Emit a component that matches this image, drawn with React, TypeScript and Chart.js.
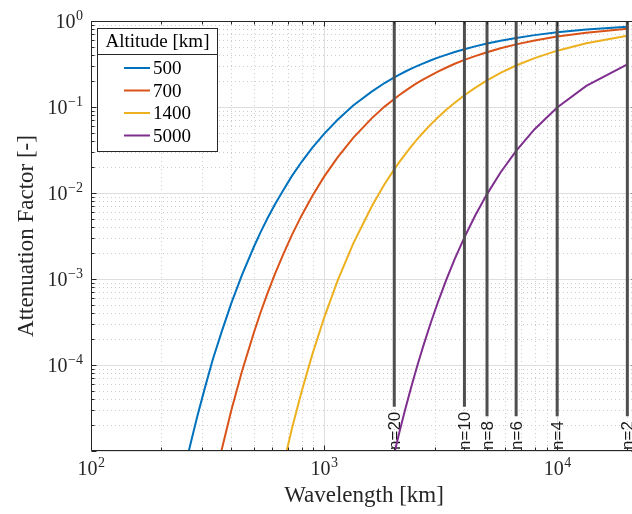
import React, { useEffect, useRef } from "react";
import { Chart, registerables } from "chart.js";

Chart.register(...registerables);

// Wavelength samples (km), one per spherical-harmonic degree n = 2..180
const wavelengthKm = [
  20000, 13333, 10000, 8000, 6667, 5714, 5000, 4444, 4000, 3636, 3333, 3077, 2857, 2667, 2500,
  2353, 2222, 2105, 2000, 1818, 1600, 1333, 1143, 1000, 889, 800, 727, 667, 615, 571, 533, 500,
  444, 400, 364, 333, 308, 286, 267, 250, 222,
];

const alt500 = [
  0.86, 0.797, 0.739, 0.685, 0.636, 0.589, 0.546, 0.507, 0.47, 0.436, 0.404, 0.375, 0.347, 0.322,
  0.299, 0.277, 0.257, 0.238, 0.221, 0.19, 0.151, 0.104, 0.071, 0.0487, 0.0334, 0.0229, 0.0157,
  0.0107, 0.00736, 0.00505, 0.00346, 0.00237, 0.00111, 5.23e-4, 2.46e-4, 1.16e-4, 5.42e-5,
  2.55e-5, 1.2e-5, 5.6e-6, 1.24e-6,
];
const alt700 = [
  0.812, 0.731, 0.659, 0.594, 0.535, 0.482, 0.434, 0.391, 0.353, 0.318, 0.286, 0.258, 0.232,
  0.209, 0.189, 0.17, 0.153, 0.138, 0.124, 0.101, 0.0738, 0.0438, 0.026, 0.0155, 0.00918,
  0.00545, 0.00324, 0.00192, 0.00114, 6.77e-4, 4.02e-4, 2.39e-4, 8.42e-5, 2.97e-5, 1.05e-5,
  3.69e-6, 1.3e-6, 4.6e-7, 1.62e-7, 5.7e-8, 7.1e-9,
];
const alt1400 = [
  0.672, 0.551, 0.452, 0.37, 0.304, 0.249, 0.204, 0.167, 0.137, 0.112, 0.0922, 0.0756, 0.062,
  0.0508, 0.0417, 0.0342, 0.028, 0.023, 0.0188, 0.0127, 0.00697, 0.00258, 9.56e-4, 3.54e-4,
  1.31e-4, 4.86e-5, 1.8e-5, 6.67e-6, 2.47e-6, 9.1e-7, 3.39e-7, 1.25e-7, 1.7e-8, null, null,
  null, null, null, null, null, null,
];
const alt5000 = [
  0.314, 0.176, 0.0986, 0.0552, 0.0309, 0.0173, 0.00971, 0.00544, 0.00305, 0.00171, 9.57e-4,
  5.36e-4, 3.0e-4, 1.68e-4, 9.43e-5, 5.28e-5, 2.96e-5, 1.66e-5, 9.3e-6, 2.9e-6, 5.1e-7, 2.8e-8,
  null, null, null, null, null, null, null, null, null, null, null, null, null, null, null,
  null, null, null, null,
];

const seriesLabels = ["500", "700", "1400", "5000"];
const seriesValues = [alt500, alt700, alt1400, alt5000];
const seriesColors = ["#0072BD", "#D95319", "#EDB120", "#7E2F8E"];

const harmonicWavelengthKm = [2000, 4000, 5000, 6667, 10000, 20000];
const harmonicLabels = ["n=20", "n=10", "n=8", "n=6", "n=4", "n=2"];

const xLabelTicks = [100, 1000, 10000];
const xLabelExp = ["2", "3", "4"];
const yLabelTicks = [1, 0.1, 0.01, 0.001, 0.0001];
const yLabelExp = ["0", "\u22121", "\u22122", "\u22123", "\u22124"];

const xMin = 100;
const xMax = 22000;
const yMin = 1e-5;
const yMax = 1;

const legendTitle = "Altitude [km]";
const xTitle = "Wavelength [km]";
const yTitle = "Attenuation Factor [-]";

const SERIF = '"Liberation Serif", "Times New Roman", serif';
const SANS = '"Liberation Sans", Arial, sans-serif';
const AX = "#262626";

function logTicks(min: number, max: number) {
  const out: { v: number; major: boolean }[] = [];
  const e0 = Math.floor(Math.log10(min));
  const e1 = Math.ceil(Math.log10(max));
  for (let e = e0; e <= e1; e++) {
    for (let m = 1; m < 10; m++) {
      const v = m * Math.pow(10, e);
      if (v >= min * 0.9999 && v <= max * 1.0001) out.push({ v, major: m === 1 });
    }
  }
  return out;
}

function seg(ctx: CanvasRenderingContext2D, x1: number, y1: number, x2: number, y2: number) {
  ctx.beginPath();
  ctx.moveTo(x1, y1);
  ctx.lineTo(x2, y2);
  ctx.stroke();
}

const LABEL_BOTTOM = 450;

const matlabPlugin = {
  id: "matlabStyle",
  beforeDatasetsDraw(chart: any) {
    const { ctx, chartArea: a, scales } = chart;
    const xs = scales.x;
    const ys = scales.y;
    const xt = logTicks(xMin, xMax);
    const yt = logTicks(yMin, yMax);
    ctx.save();
    ctx.lineWidth = 1;
    // minor grid (dotted)
    ctx.strokeStyle = "#cdcdcd";
    ctx.setLineDash([1, 3]);
    for (const t of xt) {
      if (t.major) continue;
      const px = Math.round(xs.getPixelForValue(t.v)) + 0.5;
      seg(ctx, px, a.top, px, a.bottom);
    }
    for (const t of yt) {
      if (t.major) continue;
      const py = Math.round(ys.getPixelForValue(t.v)) + 0.5;
      seg(ctx, a.left, py, a.right, py);
    }
    // major grid (solid)
    ctx.setLineDash([]);
    ctx.strokeStyle = "#dedede";
    for (const t of xt) {
      if (!t.major) continue;
      const px = Math.round(xs.getPixelForValue(t.v)) + 0.5;
      seg(ctx, px, a.top, px, a.bottom);
    }
    for (const t of yt) {
      if (!t.major) continue;
      const py = Math.round(ys.getPixelForValue(t.v)) + 0.5;
      seg(ctx, a.left, py, a.right, py);
    }
    // harmonic degree labels
    ctx.fillStyle = "#1a1a1a";
    ctx.font = `17px ${SANS}`;
    ctx.textAlign = "left";
    ctx.textBaseline = "middle";
    harmonicWavelengthKm.forEach((w, i) => {
      const px = xs.getPixelForValue(w);
      ctx.save();
      ctx.translate(px + 1, LABEL_BOTTOM);
      ctx.rotate(-Math.PI / 2);
      ctx.fillText(harmonicLabels[i], 0, 0);
      ctx.restore();
    });
    ctx.restore();
  },
  afterDatasetsDraw(chart: any) {
    const { ctx, chartArea: a, scales } = chart;
    const xs = scales.x;
    ctx.save();
    ctx.font = `17px ${SANS}`;
    ctx.strokeStyle = "#4f4f4f";
    ctx.lineWidth = 3;
    harmonicWavelengthKm.forEach((w, i) => {
      const px = xs.getPixelForValue(w);
      const len = ctx.measureText(harmonicLabels[i]).width;
      seg(ctx, px, a.top, px, LABEL_BOTTOM - len - 5);
    });
    ctx.restore();
  },
  afterDraw(chart: any) {
    const { ctx, chartArea: a, scales } = chart;
    const xs = scales.x;
    const ys = scales.y;
    const L = a.left + 0.5;
    const R = a.right - 0.5;
    const T = a.top + 0.5;
    const B = a.bottom - 0.5;
    ctx.save();
    // axes box
    ctx.strokeStyle = AX;
    ctx.lineWidth = 1;
    ctx.beginPath();
    ctx.moveTo(L, T);
    ctx.lineTo(R, T);
    ctx.lineTo(R, B);
    ctx.lineTo(L, B);
    ctx.closePath();
    ctx.stroke();
    // ticks (inward)
    for (const t of logTicks(xMin, xMax)) {
      const px = Math.round(xs.getPixelForValue(t.v)) + 0.5;
      const len = t.major ? 5 : 3;
      seg(ctx, px, B, px, B - len);
      seg(ctx, px, T, px, T + len);
    }
    for (const t of logTicks(yMin, yMax)) {
      const py = Math.round(ys.getPixelForValue(t.v)) + 0.5;
      const len = t.major ? 5 : 3;
      seg(ctx, L, py, L + len, py);
      seg(ctx, R, py, R - len, py);
    }
    // tick labels
    ctx.fillStyle = AX;
    ctx.textBaseline = "alphabetic";
    ctx.textAlign = "left";
    const mainFont = `20px ${SERIF}`;
    const supFont = `14px ${SERIF}`;
    xLabelTicks.forEach((v, i) => {
      const px = xs.getPixelForValue(v);
      ctx.font = mainFont;
      const w1 = ctx.measureText("10").width;
      ctx.font = supFont;
      const w2 = ctx.measureText(xLabelExp[i]).width;
      const x0 = px - (w1 + w2) / 2;
      ctx.font = mainFont;
      ctx.fillText("10", x0, 475);
      ctx.font = supFont;
      ctx.fillText(xLabelExp[i], x0 + w1 + 0.5, 467);
    });
    yLabelTicks.forEach((v, i) => {
      const py = ys.getPixelForValue(v);
      ctx.font = mainFont;
      const w1 = ctx.measureText("10").width;
      ctx.font = supFont;
      const w2 = ctx.measureText(yLabelExp[i]).width;
      const x0 = 83 - w2 - w1 - 0.5;
      ctx.font = mainFont;
      ctx.fillText("10", x0, py + 6.5);
      ctx.font = supFont;
      ctx.fillText(yLabelExp[i], x0 + w1 + 0.5, py - 1.5);
    });
    // axis titles
    ctx.font = `23px ${SERIF}`;
    ctx.textAlign = "center";
    ctx.fillText(xTitle, (a.left + a.right) / 2, 502);
    ctx.save();
    ctx.translate(33, (a.top + a.bottom) / 2);
    ctx.rotate(-Math.PI / 2);
    ctx.fillText(yTitle, 0, 0);
    ctx.restore();
    // legend
    const lx = 97.5;
    const ly = 28.5;
    const lw = 120;
    const lh = 123;
    ctx.fillStyle = "#ffffff";
    ctx.fillRect(lx, ly, lw, lh);
    ctx.strokeStyle = AX;
    ctx.lineWidth = 1;
    ctx.strokeRect(lx, ly, lw, lh);
    seg(ctx, lx, 54.5, lx + lw, 54.5);
    ctx.fillStyle = "#000000";
    ctx.font = `19px ${SERIF}`;
    ctx.textAlign = "center";
    ctx.fillText(legendTitle, lx + lw / 2, 47);
    ctx.textAlign = "left";
    const rows = [68, 90.5, 113, 135.5];
    chart.data.datasets.forEach((ds: any, i: number) => {
      const yy = rows[i];
      ctx.strokeStyle = ds.borderColor;
      ctx.lineWidth = 2;
      seg(ctx, 124, yy, 150, yy);
      ctx.fillStyle = "#000000";
      ctx.fillText(ds.label, 153, yy + 6);
    });
    ctx.restore();
  },
};

export default function App() {
  const canvasRef = useRef<HTMLCanvasElement | null>(null);

  useEffect(() => {
    const canvas = canvasRef.current;
    if (!canvas) return;
    const datasets = seriesLabels.map((label, s) => ({
      label,
      data: wavelengthKm.map((x, i) => ({ x, y: seriesValues[s][i] })),
      borderColor: seriesColors[s],
      backgroundColor: seriesColors[s],
      borderWidth: 2,
      pointRadius: 0,
      tension: 0,
      fill: false,
      clip: 0,
    }));
    const chart = new Chart(canvas, {
      type: "line",
      data: { datasets },
      options: {
        responsive: false,
        animation: false,
        devicePixelRatio: 1,
        layout: { padding: { left: 91, top: 21, right: 5, bottom: 63 } },
        plugins: { legend: { display: false }, tooltip: { enabled: false } },
        scales: {
          x: { type: "logarithmic", min: xMin, max: xMax, display: false },
          y: { type: "logarithmic", min: yMin, max: yMax, display: false },
        },
      },
      plugins: [matlabPlugin],
    } as any);
    return () => chart.destroy();
  }, []);

  return (
    <div
      style={{
        position: "fixed",
        left: 0,
        top: 0,
        width: 632,
        height: 514,
        overflow: "hidden",
        background: "#ffffff",
      }}
    >
      <canvas ref={canvasRef} width={642} height={514} style={{ display: "block" }} />
    </div>
  );
}
